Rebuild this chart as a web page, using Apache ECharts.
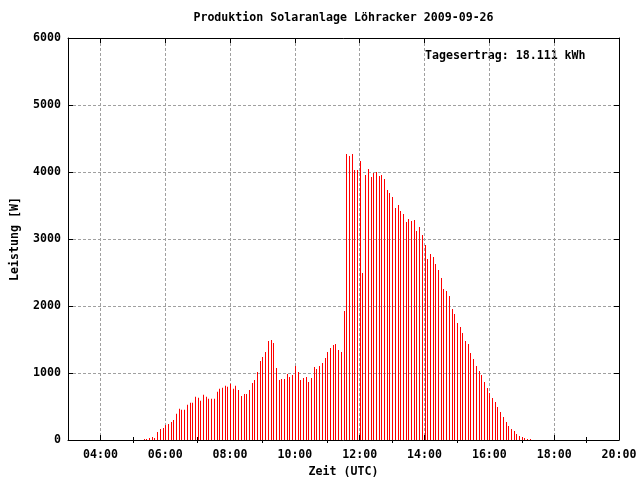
<!DOCTYPE html>
<html>
<head>
<meta charset="utf-8">
<script src="https://cdn.jsdelivr.net/npm/echarts@6/dist/echarts.min.js"></script>
<style>html,body{margin:0;padding:0;background:#fff}#c{width:640px;height:480px}</style>
</head>
<body>
<div id="c"></div>
<script>
var titleText = 'Produktion Solaranlage Löhracker 2009-09-26';
var yieldText = 'Tagesertrag: 18.111 kWh';
var xName = 'Zeit (UTC)';
var yName = 'Leistung [W]';

var times = [
 '05:20','05:25','05:30','05:35','05:40','05:45','05:50','05:55',
 '06:00','06:05','06:10','06:15','06:20','06:25','06:30','06:35','06:40','06:45','06:50','06:55',
 '07:00','07:05','07:10','07:15','07:20','07:25','07:30','07:35','07:40','07:45','07:50','07:55',
 '08:00','08:05','08:10','08:15','08:20','08:25','08:30','08:35','08:40','08:45','08:50','08:55',
 '09:00','09:05','09:10','09:15','09:20','09:25','09:30','09:35','09:40','09:45','09:50','09:55',
 '10:00','10:05','10:10','10:15','10:20','10:25','10:30','10:35','10:40','10:45','10:50','10:55',
 '11:00','11:05','11:10','11:15','11:20','11:25','11:30','11:35','11:40','11:45','11:50','11:55',
 '12:00','12:05','12:10','12:15','12:20','12:25','12:30','12:35','12:40','12:45','12:50','12:55',
 '13:00','13:05','13:10','13:15','13:20','13:25','13:30','13:35','13:40','13:45','13:50','13:55',
 '14:00','14:05','14:10','14:15','14:20','14:25','14:30','14:35','14:40','14:45','14:50','14:55',
 '15:00','15:05','15:10','15:15','15:20','15:25','15:30','15:35','15:40','15:45','15:50','15:55',
 '16:00','16:05','16:10','16:15','16:20','16:25','16:30','16:35','16:40','16:45','16:50','16:55',
 '17:00','17:05','17:10','17:15'
];
var watts = [
 15,15,30,45,30,120,165,180,
 225,240,270,300,390,465,450,450,525,555,555,645,
 630,585,675,645,615,615,615,720,765,780,810,795,
 840,765,810,745,655,685,685,745,850,895,1015,1180,
 1240,1315,1478,1493,1448,1075,895,910,910,985,940,970,
 1105,1015,895,925,940,865,925,1090,1060,1105,1150,1225,
 1315,1373,1418,1433,1343,1313,1925,4269,4239,4269,4030,4030,
 4164,2492,3955,4045,3925,3985,4000,3940,3955,3895,3731,3687,
 3627,3463,3507,3418,3373,3254,3298,3269,3284,3119,3179,3060,
 2910,2701,2776,2731,2627,2537,2418,2254,2224,2149,1955,1881,
 1746,1687,1597,1478,1433,1298,1209,1104,1030,970,866,776,
 701,627,567,493,418,343,269,209,164,134,90,60,
 45,30,15,15
];
var majorHours = [4,6,8,10,12,14,16,18,20];
var minorHours = [5,7,9,11,13,15,17,19];
var xMin = 3, xMax = 20;
var yMin = 0, yMax = 6000, yStep = 1000;

function toHours(t){ var p = t.split(':'); return +p[0] + (+p[1])/60; }
function fmtHour(v){ var h = Math.round(v); return (h<10?'0':'')+h+':00'; }
function fmtPlain(v){ return String(Math.round(v)); }
var data = times.map(function(t,i){ return [toHours(t), watts[i]]; });

var FONT = '"DejaVu Sans Mono", "Liberation Mono", monospace';
var txt = {fontFamily: FONT, fontWeight: 'bold', fontSize: 11.6, color: '#000'};
var gridLine = {show:true, lineStyle:{color:'#a0a0a0', type:[3,2], width:1}};
var blackLine = {show:true, onZero:false, lineStyle:{color:'#000', width:1}};

var chart = echarts.init(document.getElementById('c'), null, {renderer:'canvas'});
chart.setOption({
  animation: false,
  backgroundColor: '#fff',
  grid: {left:68, right:21, top:38, bottom:40, containLabel:false, outerBoundsMode:'none'},
  graphic: [
    {type:'text', x:343.5, y:18, style:{text:titleText, textAlign:'center', textVerticalAlign:'middle', fill:'#000', font:'bold 11.6px ' + FONT}},
    {type:'text', x:425, y:56, style:{text:yieldText, textAlign:'left', textVerticalAlign:'middle', fill:'#000', font:'bold 11.6px ' + FONT}}
  ],
  xAxis: [
    {type:'value', position:'bottom', min:xMin, max:xMax,
     axisLine: blackLine,
     axisTick:{show:true, inside:true, length:5, customValues: majorHours, lineStyle:{color:'#000'}},
     axisLabel: Object.assign({show:true, margin:9, customValues: majorHours, formatter: fmtHour}, txt),
     splitLine: gridLine,
     name: xName, nameLocation:'middle', nameGap:26, nameTextStyle: txt},
    {type:'value', position:'bottom', min:xMin, max:xMax,
     axisLine:{show:false},
     axisTick:{show:true, inside:true, length:3, customValues: minorHours, lineStyle:{color:'#000'}},
     axisLabel:{show:false}, splitLine:{show:false}},
    {type:'value', position:'top', min:xMin, max:xMax,
     axisLine: blackLine,
     axisTick:{show:true, inside:true, length:5, customValues: majorHours, lineStyle:{color:'#000'}},
     axisLabel:{show:false}, splitLine:{show:false}},
    {type:'value', position:'top', min:xMin, max:xMax,
     axisLine:{show:false},
     axisTick:{show:true, inside:true, length:3, customValues: minorHours, lineStyle:{color:'#000'}},
     axisLabel:{show:false}, splitLine:{show:false}}
  ],
  yAxis: [
    {type:'value', position:'left', min:yMin, max:yMax, interval:yStep,
     axisLine: blackLine,
     axisTick:{show:true, inside:true, length:5, lineStyle:{color:'#000'}},
     axisLabel: Object.assign({margin:7, formatter: fmtPlain}, txt),
     splitLine: gridLine,
     name: yName, nameLocation:'middle', nameGap:47, nameRotate:90, nameTextStyle: txt},
    {type:'value', position:'right', min:yMin, max:yMax, interval:yStep,
     axisLine: blackLine,
     axisTick:{show:true, inside:true, length:5, lineStyle:{color:'#000'}},
     axisLabel:{show:false}, splitLine:{show:false}}
  ],
  series: [{
    type:'custom', xAxisIndex:0, yAxisIndex:0, data:data, clip:true,
    encode:{x:0, y:1},
    renderItem: function(params, api){
      var top = api.coord([api.value(0), api.value(1)]);
      var base = api.coord([api.value(0), 0]);
      var x = Math.round(top[0]);
      return {type:'rect', shape:{x:x, y:top[1], width:1, height:base[1]-top[1]}, style:{fill:'#ff0000'}};
    }
  }]
});
</script>
</body>
</html>
